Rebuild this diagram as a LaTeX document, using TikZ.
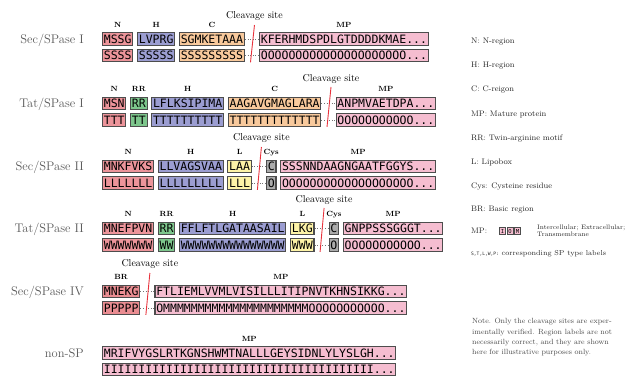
\documentclass[tikz,border=0pt]{standalone}
\usepackage{fontspec}
\newfontfamily\seqfont{DejaVu Sans Mono}
\usetikzlibrary{positioning,calc}
\definecolor{cN}{HTML}{EC949A}
\definecolor{cH}{HTML}{9B9DD1}
\definecolor{cC}{HTML}{F8C99C}
\definecolor{cRR}{HTML}{7DC68C}
\definecolor{cL}{HTML}{FDF3A7}
\definecolor{cCys}{HTML}{ABABAB}
\definecolor{cMP}{HTML}{F5BDD0}
\definecolor{cBR}{HTML}{EA8D92}
\definecolor{edge}{HTML}{4D4D4D}
\definecolor{cut}{HTML}{E8323C}
\newcommand\myrep[2]{\foreach\rr in {1,...,#1}{#2}}
\begin{document}
\begin{tikzpicture}[x=1pt,y=-1pt,
  seq/.style={draw=edge, line width=1.1pt, anchor=west, inner xsep=1.3pt, inner ysep=0pt,
    minimum height=12.5pt, font=\fontsize{11.5}{12}\seqfont, text height=8.4pt, text depth=0pt},
  seqb/.style={seq, anchor=north west, yshift=-2.8pt},
  rlab/.style={inner sep=0pt, font=\fontsize{7.5}{8}\selectfont\bfseries, text height=5.2pt, text depth=0pt},
  cleav/.style={inner sep=0pt, font=\fontsize{10}{11}\selectfont, text height=6.9pt, text depth=0pt},
  rowlab/.style={anchor=east, inner sep=0pt, text=black!65, font=\fontsize{12.5}{13}\selectfont, text height=8.5pt, text depth=0pt},
  dotc/.style={draw=black!55, dotted, line width=0.6pt},
  cutl/.style={draw=cut, line width=0.9pt},
  leg/.style={anchor=west, inner sep=0pt, text=black!85, font=\fontsize{8}{9}\selectfont, text height=5.5pt, text depth=0pt},
  legs/.style={anchor=west, inner sep=0pt, text=black!85, align=left, font=\fontsize{6.5}{7}\selectfont},
  mini/.style={draw=edge, fill=cMP, line width=0.7pt, inner sep=0pt, minimum width=6pt, minimum height=7pt, font=\fontsize{5.5}{6}\seqfont},
  note/.style={anchor=west, inner sep=0pt, text=black!70, align=left, font=\fontsize{7.5}{10.3}\selectfont}
]
\useasboundingbox (0,0) rectangle (628,377);

% ---------- Row 1: Sec/SPase I ----------
\node[rowlab] (r1) at (84,39) {Sec/SPase I};
\node[seq,fill=cN] (s1n) at (102,39) {MSSG};
\node[seq,fill=cH,right=3.6pt of s1n] (s1h) {LVPRG};
\node[seq,fill=cC,right=3.6pt of s1h] (s1c) {SGMKETAAA};
\node[seq,fill=cMP,right=14.1pt of s1c] (s1m) {KFERHMDSPDLGTDDDDKMAE...};
\node[seqb,fill=cN] (s1nb) at (s1n.south west) {SSSS};
\node[seqb,fill=cH] (s1hb) at (s1h.south west) {SSSSS};
\node[seqb,fill=cC] (s1cb) at (s1c.south west) {SSSSSSSSS};
\node[seqb,fill=cMP] (s1mb) at (s1m.south west) {\myrep{21}{O}...};
\draw[dotc] (s1c.east) -- (s1m.west);
\draw[dotc] (s1cb.east) -- (s1mb.west);
\node[rlab] (l1n) at ($(s1n.north)+(0,-7.5)$) {N};
\node[rlab] (l1h) at ($(s1h.north)+(0,-7.5)$) {H};
\node[rlab] (l1c) at ($(s1c.north)+(0,-7.5)$) {C};
\node[rlab] (l1m) at ($(s1m.north)+(0,-7.5)$) {MP};
\coordinate (k1t) at ($(s1c.east)!0.5!(s1m.west)+(2.5,-14)$);
\coordinate (k1b) at ($(s1cb.east)!0.5!(s1mb.west)+(-1.5,7)$);
\draw[cutl] (k1t) -- (k1b);
\node[cleav] (k1l) at ($(k1t)+(0,-10)$) {Cleavage site};

% ---------- Row 2: Tat/SPase I ----------
\node[rowlab] (r2) at (84,103.5) {Tat/SPase I};
\node[seq,fill=cN] (s2n) at (102,103.5) {MSN};
\node[seq,fill=cRR,right=3.6pt of s2n] (s2r) {RR};
\node[seq,fill=cH,right=3.6pt of s2r] (s2h) {LFLKSIPIMA};
\node[seq,fill=cC,right=3.6pt of s2h] (s2c) {AAGAVGMAGLARA};
\node[seq,fill=cMP,right=14.1pt of s2c] (s2m) {ANPMVAETDPA...};
\node[seqb,fill=cN] (s2nb) at (s2n.south west) {TTT};
\node[seqb,fill=cRR] (s2rb) at (s2r.south west) {TT};
\node[seqb,fill=cH] (s2hb) at (s2h.south west) {\myrep{10}{T}};
\node[seqb,fill=cC] (s2cb) at (s2c.south west) {\myrep{13}{T}};
\node[seqb,fill=cMP] (s2mb) at (s2m.south west) {\myrep{11}{O}...};
\draw[dotc] (s2c.east) -- (s2m.west);
\draw[dotc] (s2cb.east) -- (s2mb.west);
\node[rlab] (l2n) at ($(s2n.north)+(0,-7.5)$) {N};
\node[rlab] (l2r) at ($(s2r.north)+(0,-7.5)$) {RR};
\node[rlab] (l2h) at ($(s2h.north)+(0,-7.5)$) {H};
\node[rlab] (l2c) at ($(s2c.north)+(0,-7.5)$) {C};
\node[rlab] (l2m) at ($(s2m.north)+(0,-7.5)$) {MP};
\coordinate (k2t) at ($(s2c.east)!0.5!(s2m.west)+(2.5,-16.5)$);
\coordinate (k2b) at ($(s2cb.east)!0.5!(s2mb.west)+(-1.5,7)$);
\draw[cutl] (k2t) -- (k2b);
\node[cleav] (k2l) at ($(k2t)+(0,-9)$) {Cleavage site};

% ---------- Row 3: Sec/SPase II ----------
\node[rowlab] (r3) at (84,166.5) {Sec/SPase II};
\node[seq,fill=cN] (s3n) at (102,166.5) {MNKFVKS};
\node[seq,fill=cH,right=3.6pt of s3n] (s3h) {LLVAGSVAA};
\node[seq,fill=cL,right=3.6pt of s3h] (s3l) {LAA};
\node[seq,fill=cCys,right=14.1pt of s3l] (s3y) {C};
\node[seq,fill=cMP,right=3.6pt of s3y] (s3m) {SSSNNDAAGNGAATFGGYS...};
\node[seqb,fill=cN] (s3nb) at (s3n.south west) {\myrep{7}{L}};
\node[seqb,fill=cH] (s3hb) at (s3h.south west) {\myrep{9}{L}};
\node[seqb,fill=cL] (s3lb) at (s3l.south west) {LLL};
\node[seqb,fill=cCys] (s3yb) at (s3y.south west) {O};
\node[seqb,fill=cMP] (s3mb) at (s3m.south west) {\myrep{19}{O}...};
\draw[dotc] (s3l.east) -- (s3y.west);
\draw[dotc] (s3lb.east) -- (s3yb.west);
\node[rlab] (l3n) at ($(s3n.north)+(0,-7.5)$) {N};
\node[rlab] (l3h) at ($(s3h.north)+(0,-7.5)$) {H};
\node[rlab] (l3l) at ($(s3l.north)+(0,-7.5)$) {L};
\node[rlab] (l3y) at ($(s3y.north)+(0,-7.5)$) {Cys};
\node[rlab] (l3m) at ($(s3m.north)+(0,-7.5)$) {MP};
\coordinate (k3t) at ($(s3l.east)!0.5!(s3y.west)+(2.5,-19.5)$);
\coordinate (k3b) at ($(s3lb.east)!0.5!(s3yb.west)+(-1.5,7)$);
\draw[cutl] (k3t) -- (k3b);
\node[cleav] (k3l) at ($(k3t)+(0,-10)$) {Cleavage site};

% ---------- Row 4: Tat/SPase II ----------
\node[rowlab] (r4) at (84,228.5) {Tat/SPase II};
\node[seq,fill=cN] (s4n) at (102,228.5) {MNEFPVN};
\node[seq,fill=cRR,right=3.6pt of s4n] (s4r) {RR};
\node[seq,fill=cH,right=3.6pt of s4r] (s4h) {FFLFTLGATAASAIL};
\node[seq,fill=cL,right=3.6pt of s4h] (s4l) {LKG};
\node[seq,fill=cCys,right=14.1pt of s4l] (s4y) {C};
\node[seq,fill=cMP,right=3.6pt of s4y] (s4m) {GNPPSSSGGGT...};
\node[seqb,fill=cN] (s4nb) at (s4n.south west) {\myrep{7}{W}};
\node[seqb,fill=cRR] (s4rb) at (s4r.south west) {WW};
\node[seqb,fill=cH] (s4hb) at (s4h.south west) {\myrep{15}{W}};
\node[seqb,fill=cL] (s4lb) at (s4l.south west) {WWW};
\node[seqb,fill=cCys] (s4yb) at (s4y.south west) {O};
\node[seqb,fill=cMP] (s4mb) at (s4m.south west) {\myrep{11}{O}...};
\draw[dotc] (s4l.east) -- (s4y.west);
\draw[dotc] (s4lb.east) -- (s4yb.west);
\node[rlab] (l4n) at ($(s4n.north)+(0,-7.5)$) {N};
\node[rlab] (l4r) at ($(s4r.north)+(0,-7.5)$) {RR};
\node[rlab] (l4h) at ($(s4h.north)+(0,-7.5)$) {H};
\node[rlab] (l4l) at ($(s4l.north)+(0,-7.5)$) {L};
\node[rlab] (l4y) at ($(s4y.north)+(0,-7.5)$) {Cys};
\node[rlab] (l4m) at ($(s4m.north)+(0,-7.5)$) {MP};
\coordinate (k4t) at ($(s4l.east)!0.5!(s4y.west)+(2.5,-20.5)$);
\coordinate (k4b) at ($(s4lb.east)!0.5!(s4yb.west)+(-1.5,7)$);
\draw[cutl] (k4t) -- (k4b);
\node[cleav] (k4l) at ($(k4t)+(0,-9)$) {Cleavage site};

% ---------- Row 5: Sec/SPase IV ----------
\node[rowlab] (r5) at (84,291.5) {Sec/SPase IV};
\node[seq,fill=cBR] (s5b) at (102,291.5) {MNEKG};
\node[seq,fill=cMP,right=14.1pt of s5b] (s5m) {FTLIEMLVVMLVISILLLITIPNVTKHNSIKKG...};
\node[seqb,fill=cBR] (s5bb) at (s5b.south west) {PPPPP};
\node[seqb,fill=cMP] (s5mb) at (s5m.south west) {O\myrep{21}{M}\myrep{11}{O}...};
\draw[dotc] (s5b.east) -- (s5m.west);
\draw[dotc] (s5bb.east) -- (s5mb.west);
\node[rlab] (l5b) at ($(s5b.north)+(0,-7.5)$) {BR};
\node[rlab] (l5m) at ($(s5m.north)+(0,-7.5)$) {MP};
\coordinate (k5t) at ($(s5b.east)!0.5!(s5m.west)+(2.5,-18.5)$);
\coordinate (k5b) at ($(s5bb.east)!0.5!(s5mb.west)+(-1.5,7)$);
\draw[cutl] (k5t) -- (k5b);
\node[cleav] (k5l) at ($(k5t)+(0,-10)$) {Cleavage site};

% ---------- Row 6: non-SP ----------
\node[rowlab] (r6) at (84,353) {non-SP};
\node[seq,fill=cMP] (s6m) at (102,353) {MRIFVYGSLRTKGNSHWMTNALLLGEYSIDNLYLYSLGH...};
\node[seqb,fill=cMP] (s6mb) at (s6m.south west) {\myrep{39}{I}...};
\node[rlab] (l6m) at ($(s6m.north)+(0,-7.5)$) {MP};

% ---------- Legend ----------
\node[leg] (g1) at (471,41) {N: N-region};
\node[leg] (g2) at (471,64.5) {H: H-region};
\node[leg] (g3) at (471,89) {C: C-reigon};
\node[leg] (g4) at (471,113.5) {MP: Mature protein};
\node[leg] (g5) at (471,138) {RR: Twin-arginine motif};
\node[leg] (g6) at (471,162) {L: Lipobox};
\node[leg] (g7) at (471,185.5) {Cys: Cysteine residue};
\node[leg] (g8) at (471,209) {BR: Basic region};
\node[leg] (g9) at (471,231) {MP:};
\node[mini] (gi) at (502.5,231) {I};
\node[mini] (go) at (510,231) {O};
\node[mini] (gm) at (517.5,231) {M};
\node[legs] (g9t) at (537,231) {Intercellular; Extracellular;\\Transmembrane};
\node[leg,font=\fontsize{7.2}{8}\selectfont] (g10) at (471,252.5) {{\fontsize{4.6}{5}\seqfont S,T,L,W,P:} corresponding SP type labels};
\node[note] (nt) at (472,337.5) {Note. Only the cleavage sites are exper-\\imentally verified. Region labels are not\\necessarily correct, and they are shown\\here for illustrative purposes only.};
\end{tikzpicture}
\end{document}
